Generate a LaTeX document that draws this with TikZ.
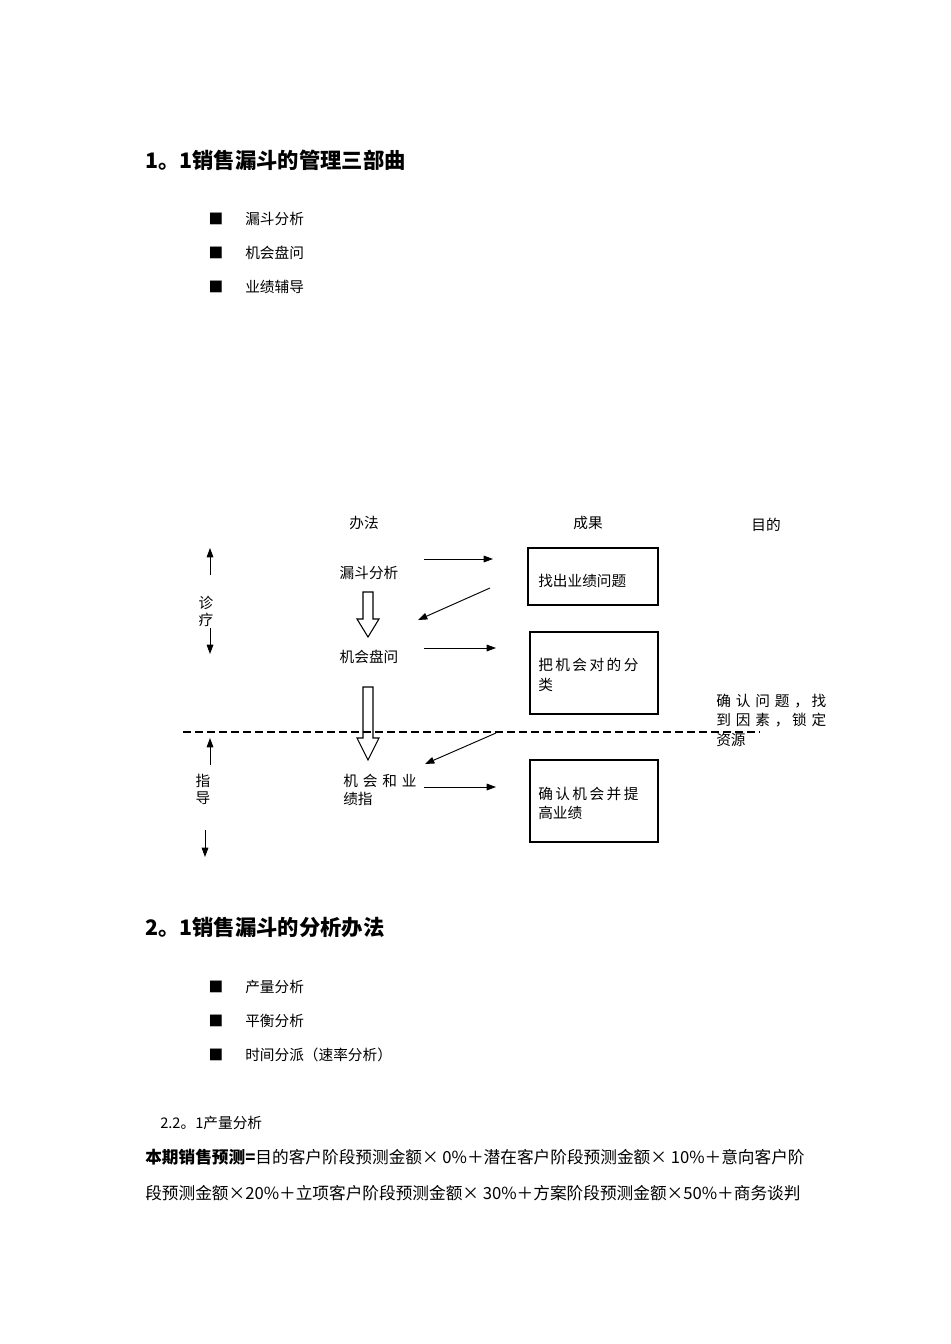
\documentclass[tikz,border=0pt]{standalone}
\usepackage{fontspec}
\setmainfont{Noto Sans CJK SC}
\usetikzlibrary{arrows.meta}
\begin{document}
\begin{tikzpicture}[x=0.75pt,y=-0.75pt,
  txt/.style={inner sep=0pt,font=\fontsize{11}{12}\selectfont},
  ltxt/.style={txt,anchor=west},
  ftxt/.style={inner sep=0pt,anchor=west,font=\fontsize{12.5}{14}\selectfont},
  head/.style={inner sep=0pt,anchor=west,font=\fontsize{16}{18}\selectfont\bfseries},
  arr/.style={-{Triangle[length=7pt,width=5pt]},line width=0.7pt},
  box/.style={draw,line width=0.8pt},
  hollow/.style={draw,line width=0.8pt,fill=white}]
\useasboundingbox (0,0) rectangle (950,1344);
\node[head] (h1) at (145,160) {1。1销售漏斗的管理三部曲};
\foreach \t/\y [count=\i] in {漏斗分析/219,机会盘问/253,业绩辅导/287}{
  \node[txt] (b\i) at (216,\y) {■};
  \node[ltxt] (t\i) at (245,\y) {\t};}
\node[txt] (m) at (364,523) {办法};
\node[txt] (c) at (588,523) {成果};
\node[txt] (g) at (766,525) {目的};
% left arrows
\coordinate (la1) at (210,575); \coordinate (la2) at (210,548);
\draw[arr] (la1) -- (la2);
\node[txt] (z1) at (206,603) {诊};
\node[txt] (z2) at (206,620) {疗};
\coordinate (la3) at (210,628); \coordinate (la4) at (210,654);
\draw[arr] (la3) -- (la4);
\coordinate (la5) at (210,765); \coordinate (la6) at (210,738);
\draw[arr] (la5) -- (la6);
\node[txt] (d1) at (203,781) {指};
\node[txt] (d2) at (203,798) {导};
\coordinate (la7) at (205,830); \coordinate (la8) at (205,857);
\draw[arr] (la7) -- (la8);
% methods
\node[txt] (n1) at (369,573) {漏斗分析};
\node[txt] (n2) at (369,657) {机会盘问};
\node[ltxt] (n3a) at (343,781) {机\,\,会\,\,和\,\,业};
\node[ltxt] (n3b) at (343,799) {绩指};
% boxes
\draw[box] (528,548) rectangle (658,605);
\node[ltxt] (r1) at (538,581) {找出业绩问题};
\draw[box] (530,632) rectangle (658,714);
\node[ltxt] (r2a) at (538,665) {把\,机\,会\,对\,的\,分};
\node[ltxt] (r2b) at (538,685) {类};
\draw[box] (530,760) rectangle (658,842);
\node[ltxt] (r3a) at (538,794) {确\,认\,机\,会\,并\,提};
\node[ltxt] (r3b) at (538,813) {高业绩};
% arrows
\coordinate (a1) at (424,559); \coordinate (a2) at (493,559);
\draw[arr] (a1) -- (a2);
\coordinate (a3) at (490,588); \coordinate (a4) at (418,620);
\draw[arr] (a3) -- (a4);
\coordinate (a5) at (424,648); \coordinate (a6) at (496,648);
\draw[arr] (a5) -- (a6);
\coordinate (a7) at (496,733); \coordinate (a8) at (425,764);
\coordinate (a9) at (424,787); \coordinate (a10) at (496,787);
\draw[arr] (a9) -- (a10);
% hollow arrows
\draw[hollow] (363,592) -- (373,592) -- (373,619) -- (379,619) -- (368,637) -- (357,619) -- (363,619) -- cycle;
% dashed line
\coordinate (dl1) at (183,732); \coordinate (dl2) at (760,732);
\draw[dashed,dash pattern=on 6pt off 3pt,line width=0.8pt] (dl1) -- (dl2);
\draw[hollow,fill=none] (363,687) -- (373,687) -- (373,738) -- (379,738) -- (368,760) -- (357,738) -- (363,738) -- cycle;
\draw[arr] (a7) -- (a8);
% purpose
\node[ltxt] (p1) at (716,701) {确\,\,认\,\,问\,\,题\,\,，\,找};
\node[ltxt] (p2) at (716,720) {到\,\,因\,\,素\,\,，\,锁\,\,定};
\node[ltxt] (p3) at (716,740) {资源};
% section 2
\node[head] (h2) at (145,927) {2。1销售漏斗的分析办法};
\foreach \t/\y [count=\i] in {产量分析/987,平衡分析/1021,时间分派（速率分析）/1055}{
  \node[txt] (bb\i) at (216,\y) {■};
  \node[ltxt] (tt\i) at (245,\y) {\t};}
\node[ltxt] (s1) at (160,1123) {2.2。1产量分析};
\node[ftxt] (f1) at (145,1157) {\textbf{本期销售预测=}目的客户阶段预测金额× 0\%＋潜在客户阶段预测金额× 10\%＋意向客户阶};
\node[ftxt] (f2) at (145,1193) {段预测金额×20\%＋立项客户阶段预测金额× 30\%＋方案阶段预测金额×50\%＋商务谈判};
\end{tikzpicture}
\end{document}
